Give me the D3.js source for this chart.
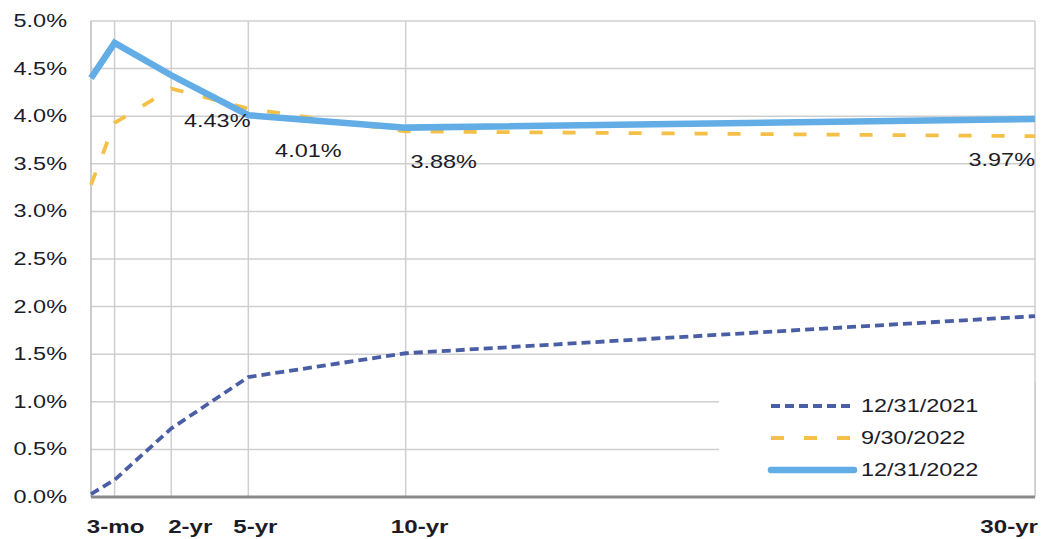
<!DOCTYPE html>
<html>
<head>
<meta charset="utf-8">
<script src="https://cdn.jsdelivr.net/npm/d3@7/dist/d3.min.js"></script>
<style>
  html, body { margin: 0; padding: 0; background: #ffffff; }
  svg { display: block; font-family: "Liberation Sans", Arial, sans-serif; }
</style>
</head>
<body>
<svg id="chart" width="1041" height="539"></svg>
<script>
// ---- data ----
const tenorPos = [0, 0.75, 2.55, 5, 10, 30];          // axis position units of each point
const tickPos = [0.75, 2.55, 5, 10, 30];
const tickLabels = ["3-mo", "2-yr", "5-yr", "10-yr", "30-yr"];
const yTicks = [0, 0.5, 1.0, 1.5, 2.0, 2.5, 3.0, 3.5, 4.0, 4.5, 5.0];
const seriesNames = ["12/31/2021", "9/30/2022", "12/31/2022"];
const yields2021 = [0.03, 0.18, 0.72, 1.26, 1.51, 1.90];
const yieldsSep2022 = [3.28, 3.93, 4.29, 4.08, 3.84, 3.79];
const yieldsDec2022 = [4.40, 4.77, 4.43, 4.01, 3.88, 3.97];
const labelIdx = [2, 3, 4, 5];
const labelTexts = ["4.43%", "4.01%", "3.88%", "3.97%"];

// ---- layout ----
const svg = d3.select("#chart");
const L = 91, R = 1035, T = 21, B = 497;
const SX = 1.34; // horizontal stretch of the reference's text
const x = d3.scaleLinear().domain([0, 30]).range([L, R]);
const y = d3.scaleLinear().domain([0, 5]).range([B, T]);

const styles = [
  { color: "#4a5ea6", width: 3.8, dash: "9,5" },
  { color: "#f4c048", width: 3.8, dash: "13,20" },
  { color: "#62ade6", width: 6.5, dash: null }
];
const seriesData = [yields2021, yieldsSep2022, yieldsDec2022];

function place(sel, fx, fy) {
  sel.attr("x", 0).attr("y", 0)
     .attr("transform", (d, i) => `translate(${fx(d, i)},${fy(d, i)}) scale(${SX},1)`);
}

// horizontal gridlines
svg.append("g").selectAll("line").data(yTicks.filter(d => d > 0)).join("line")
  .attr("x1", L).attr("x2", R)
  .attr("y1", d => y(d)).attr("y2", d => y(d))
  .attr("stroke", "#cfcfcf").attr("stroke-width", 1.5);

// vertical gridlines
svg.append("g").selectAll("line").data(tickPos).join("line")
  .attr("x1", d => x(d)).attr("x2", d => x(d))
  .attr("y1", T).attr("y2", B)
  .attr("stroke", "#cfcfcf").attr("stroke-width", 1.5);

// left axis line
svg.append("line").attr("x1", L).attr("x2", L).attr("y1", T).attr("y2", B)
  .attr("stroke", "#bdbdbd").attr("stroke-width", 1.5);

// legend box (covers gridlines)
const lg = svg.append("g");
lg.append("rect").attr("x", 719).attr("y", 382).attr("width", 316).attr("height", 112)
  .attr("fill", "#ffffff");
lg.append("line").attr("x1", R).attr("x2", R).attr("y1", 382).attr("y2", 494)
  .attr("stroke", "#c8c8c8").attr("stroke-width", 1.5);

// y axis labels
svg.append("g").selectAll("text").data(yTicks).join("text")
  .call(place, () => 67, d => y(d) + 6)
  .attr("text-anchor", "end").attr("font-size", 17.5).attr("fill", "#1c1c28")
  .text(d => d.toFixed(1) + "%");

// bottom axis line
svg.append("line").attr("x1", L).attr("x2", R).attr("y1", B).attr("y2", B)
  .attr("stroke", "#8a8a8a").attr("stroke-width", 3);

// x axis labels
const xLabelDx = [1, 19, 7, 14, 3];
svg.append("g").selectAll("text").data(tickPos).join("text")
  .call(place, (d, i) => x(d) + xLabelDx[i], () => 533)
  .attr("text-anchor", (d, i) => i === tickPos.length - 1 ? "end" : "middle")
  .attr("font-size", 18).attr("font-weight", "bold").attr("fill", "#1c1c28")
  .text((d, i) => tickLabels[i]);

// lines
const line = d3.line().x((d, i) => x(tenorPos[i])).y(d => y(d));
seriesData.forEach((s, k) => {
  svg.append("path").datum(s)
    .attr("d", line)
    .attr("fill", "none")
    .attr("stroke", styles[k].color)
    .attr("stroke-width", styles[k].width)
    .attr("stroke-dasharray", styles[k].dash)
    .attr("stroke-linejoin", "miter");
});

// data labels for 12/31/2022
const lblDx = [46, 60, 38, 0];
const lblDy = [52, 42, 40, 47];
svg.append("g").selectAll("text").data(labelIdx).join("text")
  .call(place, (d, i) => x(tenorPos[d]) + lblDx[i], (d, i) => y(yieldsDec2022[d]) + lblDy[i])
  .attr("text-anchor", (d, i) => i === labelIdx.length - 1 ? "end" : "middle")
  .attr("font-size", 17.5).attr("fill", "#1c1c28")
  .text((d, i) => labelTexts[i]);

// legend entries
const legY = [406, 438, 470];
seriesNames.forEach((name, k) => {
  lg.append("line").attr("x1", 771).attr("x2", 854)
    .attr("y1", legY[k]).attr("y2", legY[k])
    .attr("stroke", styles[k].color)
    .attr("stroke-width", styles[k].width)
    .attr("stroke-dasharray", styles[k].dash)
    .attr("stroke-linecap", k === 2 ? "round" : "butt");
  lg.append("text").datum(name)
    .call(place, () => 861, () => legY[k] + 6)
    .attr("font-size", 17.5).attr("fill", "#1c1c28").text(name);
});
svg.node().appendChild(lg.node());
</script>
</body>
</html>
